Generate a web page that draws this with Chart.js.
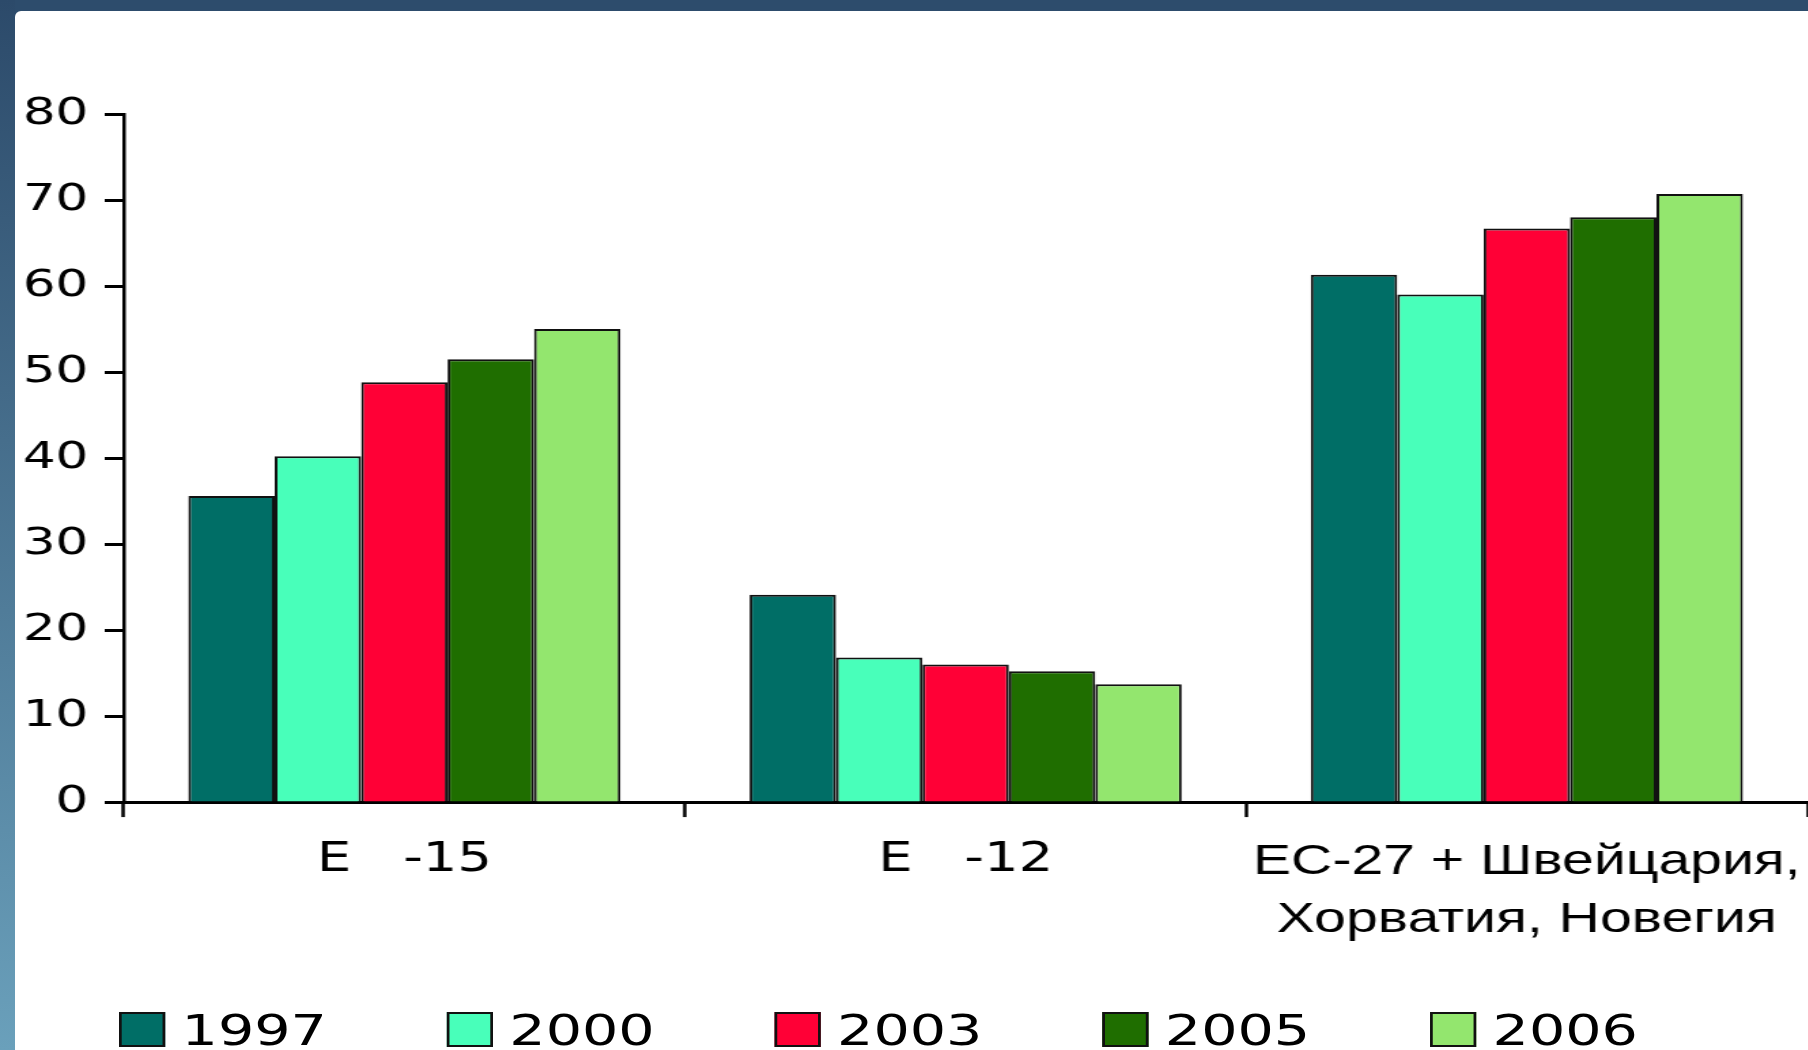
<!DOCTYPE html>
<html>
<head>
<meta charset="utf-8">
<script src="https://cdn.jsdelivr.net/npm/chart.js@4.4.1/dist/chart.umd.min.js"></script>
<style>
  html, body { margin: 0; padding: 0; width: 1808px; height: 1050px; overflow: hidden; background: #2d4c6c; }
  #stripLeft { position: absolute; left: 0; top: 0; width: 15px; height: 1050px; background: linear-gradient(#2c4a6a, #6aa0bb); }
  #panel { position: absolute; left: 15px; top: 11px; right: 0; bottom: 0; background: #fff; border-top-left-radius: 6px; }
  /* the source slide is stretched sideways, so the chart is too */
  #chart { position: absolute; left: 0; top: 0; transform: scaleX(1.36); transform-origin: 0 0; }
  #legend { position: absolute; left: 119px; top: 1010px; display: flex; transform: scaleX(1.36); transform-origin: 0 0; }
  .legend-item { width: 241px; display: flex; align-items: flex-start; }
  .legend-box { width: 30px; height: 31px; border: 2px solid #111; margin-top: 2px; }
  .legend-text { font: 42px/1 'DejaVu Sans'; margin-left: 12px; color: #000; }
</style>
</head>
<body>
<div id="stripLeft"></div>
<div id="panel"></div>
<canvas id="chart" width="1330" height="1050"></canvas>
<div id="legend"></div>
<script>
(function (win) {
  const categories = ['E   -15', 'E   -12', ['ЕС-27 + Швейцария,', 'Хорватия, Новегия']];
  const years = ['1997', '2000', '2003', '2005', '2006'];

  const values1997 = [35.6, 24.1, 61.3];
  const values2000 = [40.2, 16.8, 59.0];
  const values2003 = [48.8, 16.0, 66.7];
  const values2005 = [51.5, 15.2, 68.0];
  const values2006 = [55.0, 13.7, 70.7];

  const yTicks = [0, 10, 20, 30, 40, 50, 60, 70, 80];

  const colors = ['#006e66', '#48ffba', '#ff0036', '#1f6e00', '#93e66e'];
  const seriesValues = [values1997, values2000, values2003, values2005, values2006];

  const datasets = years.map((year, i) => ({
    label: year,
    data: seriesValues[i],
    backgroundColor: colors[i],
    borderColor: '#111',
    borderWidth: 2,
    categoryPercentage: 0.77,
    barPercentage: 1
  }));

  const canvas = document.getElementById('chart');
  const chart = new Chart(canvas, {
    type: 'bar',
    data: { labels: categories, datasets: datasets },
    options: {
      responsive: false,
      animation: false,
      layout: { padding: { left: 12, top: 114, right: 1, bottom: 85 } },
      plugins: {
        legend: { display: false },
        tooltip: { enabled: false }
      },
      scales: {
        x: {
          grid: { offset: true, drawOnChartArea: false, tickLength: 15, tickWidth: 2.5, color: '#000' },
          border: { color: '#000', width: 3 },
          ticks: {
            color: '#000',
            padding: 16,
            maxRotation: 0,
            autoSkip: false,
            font: (ctx) => ctx.index === 2
              ? { family: 'Liberation Sans', size: 42, lineHeight: 1.38 }
              : { family: 'DejaVu Sans', size: 40, lineHeight: 1.38 }
          },
          // long last label may run past the axis end, like in the slide
          afterFit: (scale) => { scale.paddingLeft = 0; scale.paddingRight = 0; }
        },
        y: {
          min: yTicks[0],
          max: yTicks[yTicks.length - 1],
          ticks: { stepSize: 10, color: '#000', padding: 12, font: { family: 'DejaVu Sans', size: 38 } },
          grid: { drawOnChartArea: false, tickLength: 14, tickWidth: 3, color: '#000' },
          border: { color: '#000', width: 2.5 },
          afterFit: (scale) => { scale.width = 79; }
        }
      }
    }
  });

  // legend drawn as html below the plot
  const legend = document.getElementById('legend');
  chart.data.datasets.forEach((ds) => {
    const item = document.createElement('div');
    item.className = 'legend-item';
    const box = document.createElement('div');
    box.className = 'legend-box';
    box.style.background = ds.backgroundColor;
    const text = document.createElement('span');
    text.className = 'legend-text';
    text.textContent = ds.label;
    item.appendChild(box);
    item.appendChild(text);
    legend.appendChild(item);
  });
})(window);
</script>
</body>
</html>
